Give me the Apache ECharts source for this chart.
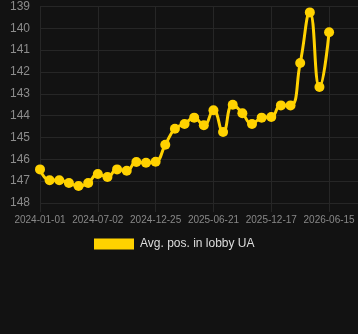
<!DOCTYPE html>
<html><head><meta charset="utf-8">
<script src="https://cdn.jsdelivr.net/npm/echarts@6/dist/echarts.min.js"></script>
<style>html,body{margin:0;padding:0;background:#121212;}#c{width:358px;height:334px;}</style>
</head><body><div id="c"></div>
<script>
var categories = ['2024-01-01','2024-01-31','2024-03-01','2024-04-01','2024-05-01','2024-06-01','2024-07-02','2024-08-01','2024-08-31','2024-09-30','2024-10-28','2024-11-26','2024-12-25','2025-01-24','2025-02-23','2025-03-24','2025-04-22','2025-05-22','2025-06-21','2025-07-21','2025-08-20','2025-09-18','2025-10-18','2025-11-17','2025-12-17','2026-01-16','2026-02-15','2026-03-17','2026-04-16','2026-05-16','2026-06-15','2026-07-15','2026-08-14','2026-09-13'];
var avgPos = [146.46,146.96,146.96,147.08,147.22,147.08,146.67,146.81,146.46,146.52,146.12,146.16,146.11,145.33,144.6,144.38,144.09,144.44,143.75,144.75,143.5,143.89,144.38,144.09,144.06,143.53,143.53,141.59,139.27,142.69,140.18,null,null,null];
var seriesName = 'Avg. pos. in lobby UA';
var chart = echarts.init(document.getElementById('c'));
chart.setOption({
  backgroundColor: '#121212',
  animation: false,
  grid: {left: 40, right: 0, top: 6.5, bottom: 131},
  legend: {
    data: [seriesName], top: 233, left: 89,
    itemWidth: 40, itemHeight: 11, itemGap: 10,
    icon: 'rect',
    textStyle: {color: '#dddddd', fontSize: 12, padding: [0, 0, 0, 1], fontFamily: 'Liberation Sans, Arial, sans-serif'}
  },
  xAxis: {
    type: 'category', data: categories, boundaryGap: false,
    axisLine: {show: false},
    axisTick: {show: true, interval: 5, length: 9, lineStyle: {color: '#262626'}},
    axisLabel: {interval: 5, color: '#888888', fontSize: 10, margin: 12, fontFamily: 'Liberation Sans, Arial, sans-serif'},
    splitLine: {show: true, interval: 5, lineStyle: {color: '#262626', width: 1}}
  },
  yAxis: {
    type: 'value', inverse: true, min: 139, max: 148, interval: 1,
    axisLine: {show: false}, axisTick: {show: false},
    axisLabel: {color: '#8c8c8c', fontSize: 12, margin: 10, fontFamily: 'Liberation Sans, Arial, sans-serif'},
    splitLine: {lineStyle: {color: '#262626', width: 1}}
  },
  series: [{
    name: seriesName, type: 'line', data: avgPos, smooth: true,
    symbol: 'circle', symbolSize: 10, showAllSymbol: true,
    itemStyle: {color: '#FFD200'},
    lineStyle: {color: '#FFD200', width: 3}
  }]
});
</script></body></html>
